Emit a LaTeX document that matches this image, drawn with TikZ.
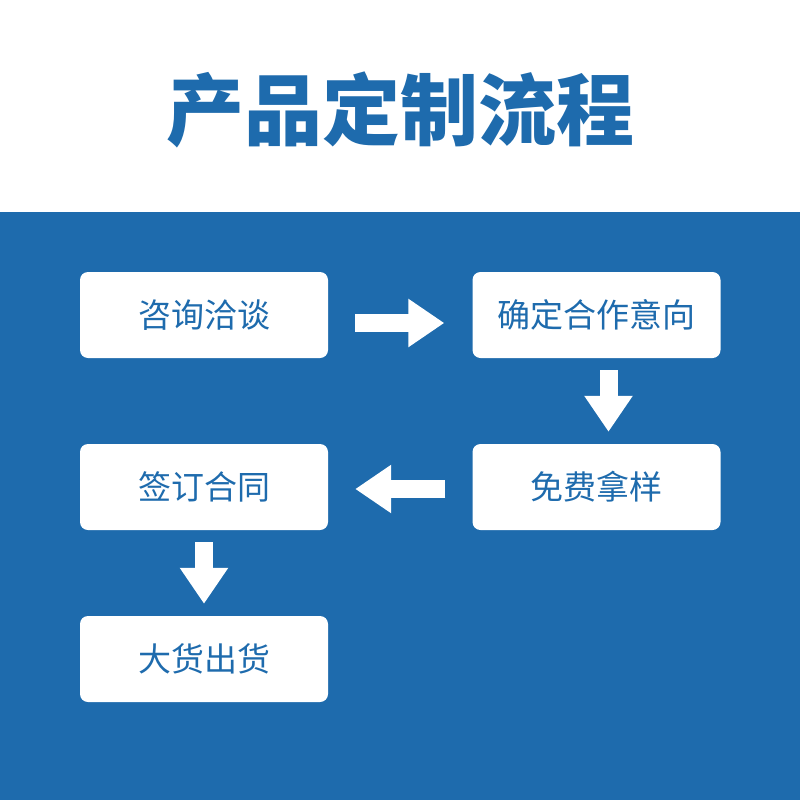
\documentclass[tikz,border=0pt]{standalone}
\usepackage{fontspec}
\newfontfamily\cjk{Noto Sans CJK SC}
\usetikzlibrary{positioning,arrows.meta,calc}
\definecolor{brandblue}{HTML}{1E6BAD}
\tikzset{stepbox/.style={fill=white,rounded corners=8pt,minimum width=248pt,minimum height=86pt,
    text=brandblue,font=\cjk\fontsize{33}{33}\selectfont},
  flow/.style={white,line width=18pt,-{Triangle[length=36pt,width=46pt]}}}
\begin{document}
\begin{tikzpicture}[x=1pt,y=-1pt]
  \useasboundingbox (0,0) rectangle (800,800);
  \fill[white] (0,0) rectangle (800,212);
  \fill[brandblue] (0,212) rectangle (800,800);
  \node (title) at (400,110) [text=brandblue,font=\cjk\bfseries\fontsize{78}{78}\selectfont] {产品定制流程};
  \node (consult) at (204,315) [stepbox] {咨询洽谈};
  \node (intent) at (596.5,315) [stepbox] {确定合作意向};
  \node (sample) at (596.5,487) [stepbox] {免费拿样};
  \node (contract) at (204,487) [stepbox] {签订合同};
  \node (ship) at (204,659) [stepbox] {大货出货};
  \draw[flow,shorten <=27pt,shorten >=28pt] ($(consult.east)+(0,8)$) -- ($(intent.west)+(0,8)$);
  \draw[flow,shorten <=12pt,shorten >=12pt] ($(intent.south)+(12,0)$) -- ($(sample.north)+(12,0)$);
  \draw[flow,shorten <=27pt,shorten >=27pt] ($(sample.west)+(0,2)$) -- ($(contract.east)+(0,2)$);
  \draw[flow,shorten <=12pt,shorten >=12pt] (contract.south) -- (ship.north);
\end{tikzpicture}
\end{document}
